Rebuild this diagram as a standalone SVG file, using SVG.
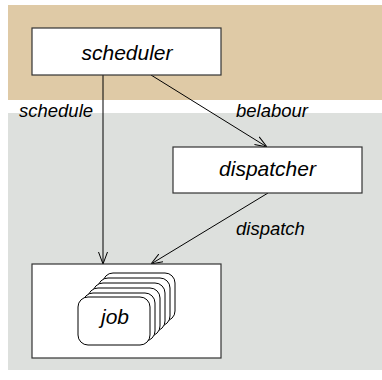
<svg xmlns="http://www.w3.org/2000/svg" width="382" height="380" viewBox="0 0 382 380">
  <style>
    .box { fill: #ffffff; stroke: #333333; stroke-width: 1.2; }
    .card { fill: #ffffff; stroke: #000000; stroke-width: 1; }
    .edge { fill: none; stroke: #000000; stroke-width: 1; }
    .big { font-family: "Liberation Sans", Arial, sans-serif; font-style: italic; font-size: 21px; fill: #000000; text-anchor: middle; }
    .lbl { font-family: "Liberation Sans", Arial, sans-serif; font-style: italic; font-size: 18.5px; fill: #000000; }
  </style>
  <defs>
    <marker id="vee" viewBox="0 0 12 10" refX="12" refY="5" markerWidth="12" markerHeight="10" markerUnits="userSpaceOnUse" orient="auto">
      <path d="M0,0.5 L12,5 L0,9.5" fill="none" stroke="#000000" stroke-width="1"/>
    </marker>
  </defs>

  <!-- background bands -->
  <rect x="8" y="5" width="374" height="95" fill="#dfcaa6"/>
  <rect x="8" y="113" width="374" height="257" fill="#dde0dd"/>

  <!-- connectors -->
  <g id="connectors">
    <line class="edge" x1="103" y1="75" x2="103" y2="264" stroke="#555555" stroke-width="1.5" marker-end="url(#vee)"/>
    <line class="edge" x1="151" y1="75" x2="267" y2="147" marker-end="url(#vee)"/>
    <line class="edge" x1="268" y1="193" x2="151" y2="264" marker-end="url(#vee)"/>
    <text class="lbl" x="19" y="117">schedule</text>
    <text class="lbl" x="236" y="117">belabour</text>
    <text class="lbl" x="236" y="235">dispatch</text>
  </g>

  <g id="scheduler">
    <rect class="box" x="32" y="28" width="189" height="47"/>
    <text class="big" x="127" y="60">scheduler</text>
  </g>

  <g id="dispatcher">
    <rect class="box" x="173" y="147" width="189" height="46"/>
    <text class="big" x="267.5" y="176">dispatcher</text>
  </g>

  <g id="job">
    <rect class="box" x="32" y="264" width="189" height="94"/>
    <rect class="card" x="103" y="273" width="72" height="48" rx="10"/>
    <rect class="card" x="98" y="278" width="72" height="48" rx="10"/>
    <rect class="card" x="93" y="283" width="72" height="48" rx="10"/>
    <rect class="card" x="88" y="288" width="72" height="48" rx="10"/>
    <rect class="card" x="83" y="293" width="72" height="48" rx="10"/>
    <rect class="card" x="78" y="297" width="72" height="48" rx="10"/>
    <text class="big" x="115" y="324">job</text>
  </g>
</svg>
